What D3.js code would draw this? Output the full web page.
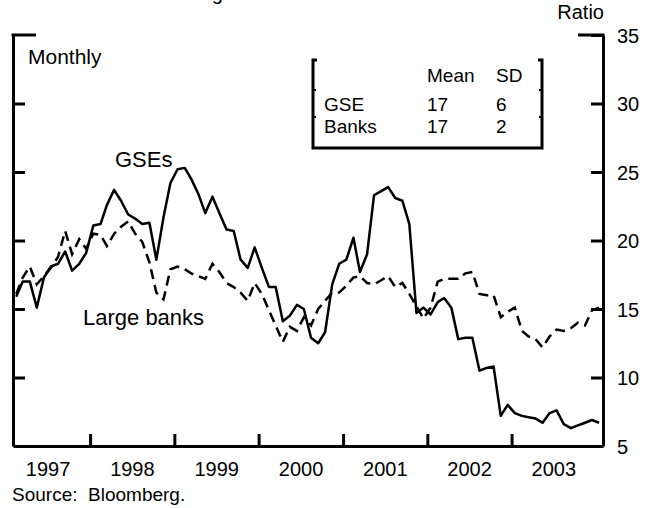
<!DOCTYPE html>
<html>
<head>
<meta charset="utf-8">
<script src="https://cdn.jsdelivr.net/npm/d3@7"></script>
<style>
body { margin: 0; background: #fff; }
text { font-family: "Liberation Sans", Arial, sans-serif; fill: #000; }
.axis path, .axis line { stroke: #000; stroke-width: 3; }
</style>
</head>
<body>
<svg id="chart" width="669" height="508"></svg>
<script>
// monthly, Feb 1997 .. Jan 2004
let gse_values = [
    15.9, 17.0, 17.0, 15.1, 17.3, 18.1, 18.3, 19.2, 17.8, 18.3,
    19.1, 21.1, 21.2, 22.6, 23.7, 22.9, 21.9, 21.6, 21.2, 21.3,
    18.6, 21.7, 24.2, 25.2, 25.3, 24.5, 23.4, 22.0, 23.2, 22.0,
    20.8, 20.7, 18.6, 18.0, 19.5, 18.0, 16.6, 16.6, 14.1, 14.5,
    15.3, 15.0, 12.9, 12.5, 13.3, 16.8, 18.3, 18.6, 20.2, 17.7,
    19.0, 23.3, 23.6, 23.9, 23.1, 22.9, 21.2, 14.7, 15.1, 14.6,
    15.5, 15.8, 15.1, 12.8, 12.9, 12.9, 10.5, 10.7, 10.8, 7.2,
    8.0, 7.4, 7.2, 7.1, 7.0, 6.7, 7.4, 7.6, 6.6, 6.3,
    6.5, 6.7, 6.9, 6.7
];
let bank_values = [
    16.1, 17.3, 18.1, 16.8, 17.4, 18.0, 18.8, 20.7, 19.0, 20.1,
    19.4, 20.5, 20.4, 19.6, 20.5, 21.0, 21.4, 20.5, 19.9, 18.4,
    16.2, 15.7, 17.9, 18.1, 17.9, 17.6, 17.4, 17.2, 18.3, 17.7,
    16.9, 16.6, 16.2, 15.6, 16.9, 16.1, 14.9, 13.8, 12.6, 13.7,
    13.4, 14.4, 13.8, 15.0, 15.6, 16.2, 16.2, 16.7, 17.3, 17.4,
    16.9, 16.8, 17.1, 17.4, 16.6, 16.9, 16.1, 15.2, 14.3, 15.1,
    17.0, 17.2, 17.2, 17.2, 17.6, 17.7, 16.1, 16.0, 16.0, 14.4,
    14.8, 15.1, 13.4, 13.0, 12.8, 12.2, 13.0, 13.5, 13.4, 13.6,
    14.0, 13.8, 14.9, 15.1
];
let year_labels = [1997, 1998, 1999, 2000, 2001, 2002, 2003];
let y_ticks = [5, 10, 15, 20, 25, 30, 35];
let stat_header = ["Mean", "SD"];
let stat_rows = [["GSE", 17, 6], ["Banks", 17, 2]];

let svg = d3.select("#chart");

let plot_left = 13, plot_right = 603, plot_top = 35, plot_bottom = 446;

let x = d3.scaleTime()
    .domain([new Date(1997, 1, 1), new Date(2004, 1, 1)])
    .range([plot_left, plot_right]);
let y = d3.scaleLinear()
    .domain([5, 35])
    .range([plot_bottom, plot_top]);

function month_date(i) {
    return new Date(1997, 1 + i, 15);
}

// axes
let y_right = d3.axisRight(y)
    .tickValues(y_ticks)
    .tickSizeInner(-12)
    .tickSizeOuter(0)
    .tickPadding(14);
let g_right = svg.append("g")
    .attr("class", "axis")
    .attr("transform", "translate(" + plot_right + ",0)")
    .call(y_right);
g_right.selectAll("text")
    .style("font-size", "20px")
    .attr("dy", "0.35em");

let y_left = d3.axisLeft(y)
    .tickValues(y_ticks.slice(1, -1))
    .tickSizeInner(-12)
    .tickSizeOuter(0)
    .tickFormat("");
svg.append("g")
    .attr("class", "axis")
    .attr("transform", "translate(" + plot_left + ",0)")
    .call(y_left);

let x_bottom = d3.axisBottom(x)
    .tickValues(year_labels.slice(1).map(function (yr) { return new Date(yr, 0, 1); }))
    .tickSizeInner(-12)
    .tickSizeOuter(0)
    .tickFormat("");
svg.append("g")
    .attr("class", "axis")
    .attr("transform", "translate(0," + plot_bottom + ")")
    .call(x_bottom);

let x_labels = d3.axisBottom(x)
    .tickValues(year_labels.map(function (yr) { return new Date(yr, 6, 1); }))
    .tickSize(0)
    .tickPadding(16)
    .tickFormat(d3.timeFormat("%Y"));
let g_labels = svg.append("g")
    .attr("transform", "translate(0," + plot_bottom + ")")
    .call(x_labels);
g_labels.select(".domain").remove();
g_labels.selectAll("text").style("font-size", "20px");

// top caps
svg.append("line")
    .attr("x1", plot_left - 1.5).attr("x2", plot_left + 23)
    .attr("y1", y(35)).attr("y2", y(35))
    .attr("stroke", "#000").attr("stroke-width", 3);
svg.append("line")
    .attr("x1", plot_right - 25).attr("x2", plot_right + 1.5)
    .attr("y1", y(35)).attr("y2", y(35))
    .attr("stroke", "#000").attr("stroke-width", 3);

// lines
let line = d3.line()
    .x(function (d, i) { return x(month_date(i)); })
    .y(function (d) { return y(d); });

svg.append("path")
    .datum(bank_values)
    .attr("d", line)
    .attr("fill", "none")
    .attr("stroke", "#000")
    .attr("stroke-width", 2.5)
    .attr("stroke-dasharray", "10,6");

svg.append("path")
    .datum(gse_values)
    .attr("d", line)
    .attr("fill", "none")
    .attr("stroke", "#000")
    .attr("stroke-width", 2.5)
    .attr("stroke-linejoin", "round");

// stats box
let box = svg.append("g").attr("transform", "translate(313,60)");
box.append("path")
    .attr("d", "M4,0 H0 V88 H229 V0 H225")
    .attr("fill", "none")
    .attr("stroke", "#000")
    .attr("stroke-width", 3);
[30, 57].forEach(function (ty) {
    box.append("line").attr("x1", 0).attr("x2", 3).attr("y1", ty).attr("y2", ty)
        .attr("stroke", "#000").attr("stroke-width", 2);
    box.append("line").attr("x1", 226).attr("x2", 229).attr("y1", ty).attr("y2", ty)
        .attr("stroke", "#000").attr("stroke-width", 2);
});
let col_x = [11, 114, 183];
box.selectAll("text.head")
    .data(stat_header)
    .enter().append("text")
    .attr("class", "head")
    .attr("x", function (d, i) { return col_x[i + 1]; })
    .attr("y", 22)
    .style("font-size", "19px")
    .text(function (d) { return d; });
stat_rows.forEach(function (row, r) {
    box.selectAll("text.row" + r)
        .data(row)
        .enter().append("text")
        .attr("class", "row" + r)
        .attr("x", function (d, i) { return col_x[i]; })
        .attr("y", 51 + r * 22)
        .style("font-size", "19px")
        .text(function (d) { return d; });
});

// labels
svg.append("text").attr("x", 28).attr("y", 64).style("font-size", "21px").text("Monthly");
svg.append("text").attr("x", 604).attr("y", 19).attr("text-anchor", "end").style("font-size", "20px").text("Ratio");
svg.append("text").attr("x", 115).attr("y", 167).style("font-size", "22px").text("GSEs");
svg.append("text").attr("x", 83).attr("y", 325).style("font-size", "22px").text("Large banks");
svg.append("text").attr("x", 12).attr("y", 501).style("font-size", "19px").attr("xml:space", "preserve").text("Source:  Bloomberg.");
svg.append("text").attr("x", 104).attr("y", 0).style("font-size", "20px").text("Price-earnings ratios");
</script>
</body>
</html>
